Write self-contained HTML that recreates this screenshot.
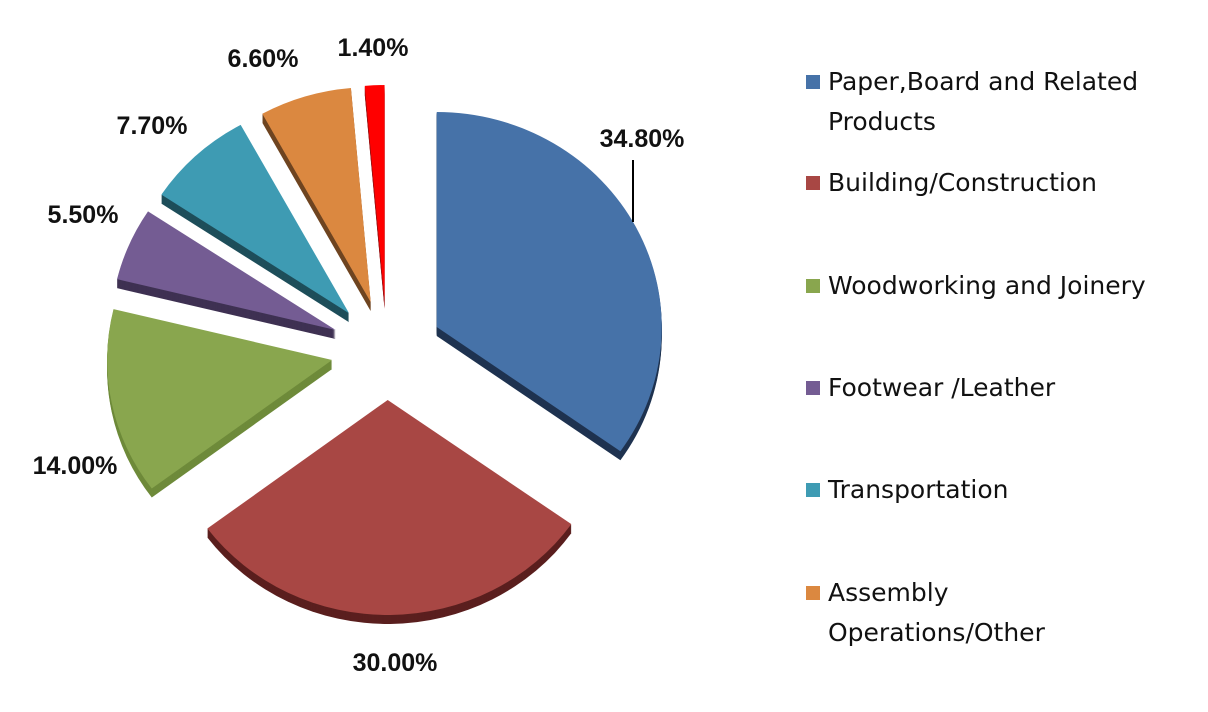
<!DOCTYPE html>
<html><head><meta charset="utf-8">
<style>
body{margin:0;background:#fff;width:1208px;height:712px;overflow:hidden;font-family:"Liberation Sans",sans-serif}
.leg{position:absolute;left:806px;font-family:"DejaVu Sans","Liberation Sans",sans-serif;font-size:25px;color:#111;line-height:40px}
.leg i{position:absolute;left:0;top:13px;width:14px;height:14px}
.leg span{display:block;margin-left:22px}
</style></head><body>
<svg id="chart" width="1208" height="712" style="position:absolute;left:0;top:0"></svg>
<div>
<div class="leg" style="top:62px"><i style="background:#4672A8"></i><span>Paper,Board and Related<br>Products</span></div>
<div class="leg" style="top:163px"><i style="background:#A84744"></i><span>Building/Construction</span></div>
<div class="leg" style="top:266px"><i style="background:#89A64E"></i><span>Woodworking and Joinery</span></div>
<div class="leg" style="top:368px"><i style="background:#745C93"></i><span>Footwear /Leather</span></div>
<div class="leg" style="top:470px"><i style="background:#3E9BB3"></i><span>Transportation</span></div>
<div class="leg" style="top:573px"><i style="background:#DB8840"></i><span>Assembly<br>Operations/Other</span></div>
</div>
<script>
const categories=["Paper,Board and Related Products","Building/Construction","Woodworking and Joinery","Footwear /Leather","Transportation","Assembly Operations/Other","Other"];
const values=[34.8,30.0,14.0,5.5,7.7,6.6,1.4];
const valueLabels=["34.80%","30.00%","14.00%","5.50%","7.70%","6.60%","1.40%"];
const colors=["#4672A8","#A84744","#89A64E","#745C93","#3E9BB3","#DB8840","#FF0000"];
const darks=["#1F3350","#5A1F1E","#6E8A3A","#3E3152","#1E4E5A","#6E4420","#991111"];
const labelPos=[[642,138],[395,662],[75,465],[83,214],[152,125],[263,58],[373,47]];
const svg=document.getElementById('chart');
const NS='http://www.w3.org/2000/svg';
const cx=387,cy=350,rx=225,ry=215,ex=56,ey=50,depth=9;
const total=values.reduce((a,b)=>a+b,0);
function pt(x0,y0,a,r1,r2){return [x0+r1*Math.sin(a),y0-r2*Math.cos(a)];}
function slicePath(x0,y0,a0,a1){
  const p0=pt(x0,y0,a0,rx,ry),p1=pt(x0,y0,a1,rx,ry);
  const large=(a1-a0)>Math.PI?1:0;
  return `M${x0},${y0}L${p0[0]},${p0[1]}A${rx},${ry} 0 ${large} 1 ${p1[0]},${p1[1]}Z`;
}
let acc=0;
const geo=values.map(v=>{const a0=acc/total*2*Math.PI;acc+=v;const a1=acc/total*2*Math.PI;const m=(a0+a1)/2;return {a0,a1,x:cx+ex*Math.sin(m),y:cy-ey*Math.cos(m)};});
geo.forEach((g,i)=>{
  for(let d=depth;d>0;d--){
    const s=document.createElementNS(NS,'path');
    s.setAttribute('d',slicePath(g.x,g.y+d,g.a0,g.a1));
    s.setAttribute('fill',darks[i]);
    
    
    svg.appendChild(s);
  }
});
geo.forEach((g,i)=>{
  const s=document.createElementNS(NS,'path');
  s.setAttribute('d',slicePath(g.x,g.y,g.a0,g.a1));
  s.setAttribute('fill',colors[i]);
  
  
  svg.appendChild(s);
  const t=document.createElementNS(NS,'text');
  t.setAttribute('x',labelPos[i][0]);t.setAttribute('y',labelPos[i][1]+9);
  t.setAttribute('text-anchor','middle');t.setAttribute('font-size','25');t.setAttribute('font-weight','bold');
  t.setAttribute('font-family','Liberation Sans, sans-serif');t.setAttribute('fill','#111');
  t.textContent=valueLabels[i];
  
  
  svg.appendChild(t);
});
const ln=document.createElementNS(NS,'line');
ln.setAttribute('x1',633);ln.setAttribute('y1',160);ln.setAttribute('x2',633);ln.setAttribute('y2',222);
ln.setAttribute('stroke','#000');ln.setAttribute('stroke-width','2');


svg.appendChild(ln);
</script>
</body></html>
